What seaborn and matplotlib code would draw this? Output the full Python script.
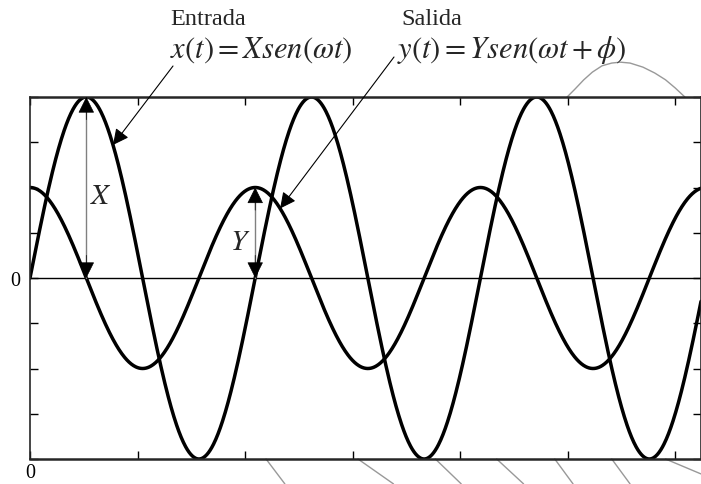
"""Entrada x(t) y salida y(t) de un sistema: dos senoidales desfasadas."""

import numpy as np
import pandas as pd
import matplotlib

matplotlib.use("Agg")
import matplotlib.pyplot as plt
import seaborn as sns

# parametros
AMP_X = 4.0          # amplitud de entrada X
AMP_Y = 2.0          # amplitud de salida Y
OMEGA = 3.0          # frecuencia (periodo ~2.09 divisiones)
PHI = np.pi / 2      # desfase de la salida
T_MAX = 6.24

X_TICKS = [0, 1, 2, 3, 4, 5, 6]
X_TICK_LABELS = ["0", "", "", "", "", "", ""]
Y_TICKS = [-4, -3, -2, -1, 0, 1, 2, 3, 4]
Y_TICK_LABELS = ["", "", "", "", "0", "", "", "", ""]

# trazos grises sueltos del original
HUMP_T = [4.995, 5.07, 5.15, 5.23, 5.32, 5.41, 5.49, 5.58, 5.70, 5.81, 5.91, 6.00, 6.09]
HUMP_V = [4.0, 4.18, 4.38, 4.55, 4.69, 4.75, 4.77, 4.75, 4.66, 4.53, 4.38, 4.20, 4.0]
STRAY_T0 = [2.195, 3.05, 3.77, 4.34, 4.88, 5.41, 5.91]
STRAY_T1 = [2.37, 3.38, 4.01, 4.59, 5.05, 5.58, 6.24]
STRAY_V1 = [-4.55, -4.55, -4.55, -4.55, -4.55, -4.55, -4.33]

sns.set_style("ticks")
plt.rcParams["font.family"] = ["Liberation Serif", "DejaVu Serif"]
plt.rcParams["mathtext.fontset"] = "stix"

t = np.linspace(0, T_MAX, 1200)
df = pd.DataFrame({
    "t": np.concatenate([t, t]),
    "v": np.concatenate([AMP_X * np.sin(OMEGA * t), AMP_Y * np.sin(OMEGA * t + PHI)]),
    "senal": ["entrada"] * len(t) + ["salida"] * len(t),
})

fig = plt.figure(figsize=(7.01, 4.85), dpi=100)
ax = fig.add_axes([30 / 701, 25 / 485, 671 / 701, 362 / 485])

sns.lineplot(data=df, x="t", y="v", units="senal", estimator=None,
             color="black", linewidth=2.5, ax=ax, legend=False)
ax.axhline(0, color="black", linewidth=1.0)

ax.set_xlim(0, T_MAX)
ax.set_ylim(-4, 4)
ax.set_xticks(X_TICKS)
ax.set_xticklabels(X_TICK_LABELS)
ax.set_yticks(Y_TICKS)
ax.set_yticklabels(Y_TICK_LABELS)
ax.tick_params(direction="in", length=6, width=1, top=True, right=True,
               labelsize=14.5, colors="black")
ax.tick_params(axis="x", pad=3)
ax.tick_params(axis="y", pad=7)
ax.set_xlabel("")
ax.set_ylabel("")
for side in ["top", "bottom"]:
    ax.spines[side].set_linewidth(1.8)
for side in ["left", "right"]:
    ax.spines[side].set_linewidth(1.2)

# flechas de amplitud X e Y
t_px = np.pi / (2 * OMEGA)
t_py = (np.pi / 2 - PHI + 2 * np.pi) / OMEGA
head = dict(arrowstyle="-|>", color="black", lw=0.5, mutation_scale=26,
            shrinkA=0, shrinkB=0)
for tp, amp in [(t_px, AMP_X), (t_py, AMP_Y)]:
    ax.plot([tp, tp], [0, amp], color="gray", linewidth=1.0)
    ax.annotate("", xy=(tp, amp), xytext=(tp, amp - 0.5), arrowprops=head)
    ax.annotate("", xy=(tp, 0), xytext=(tp, 0.5), arrowprops=head)
ax.text(t_px + 0.14, 1.81, r"$X$", fontsize=21, ha="center", va="center")
ax.text(t_py - 0.14, 0.80, r"$Y$", fontsize=21, ha="center", va="center")

# rotulos de entrada y salida
fig.text(208, 465, "Entrada", transform=None, fontsize=17.5, ha="center", va="center")
fig.text(432, 465, "Salida", transform=None, fontsize=17.5, ha="center", va="center")
fig.text(261, 435, r"$x\left(t\right) = Xsen\left(\omega t\right)$",
         transform=None, fontsize=22, ha="center", va="center")
fig.text(512, 435, r"$y\left(t\right) = Ysen\left(\omega t + \phi\right)$",
         transform=None, fontsize=22, ha="center", va="center")

pointer = dict(arrowstyle="-|>", color="black", lw=0.8, mutation_scale=24,
               shrinkA=0, shrinkB=0)
t_in = 0.772
t_out = 2.326
ax.annotate("", xy=(t_in, AMP_X * np.sin(OMEGA * t_in)), xytext=(173, 418),
            textcoords="figure pixels", arrowprops=pointer)
ax.annotate("", xy=(t_out, AMP_Y * np.sin(OMEGA * t_out + PHI)), xytext=(394, 427),
            textcoords="figure pixels", arrowprops=pointer)

ax.plot(HUMP_T, HUMP_V, color="#999999", linewidth=1.0, clip_on=False)
for t0, t1, v1 in zip(STRAY_T0, STRAY_T1, STRAY_V1):
    ax.plot([t0, t1], [-4, v1], color="#999999", linewidth=1.0, clip_on=False)

fig.savefig("out.png", dpi=100)
plt.close(fig)
